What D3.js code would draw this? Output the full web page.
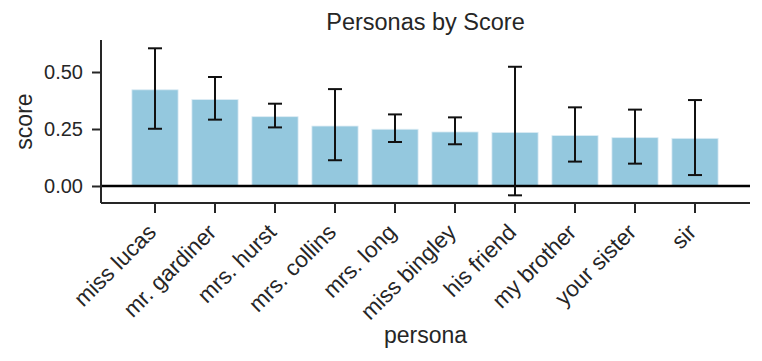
<!DOCTYPE html>
<html>
<head>
<meta charset="utf-8">
<script src="https://cdn.jsdelivr.net/npm/d3@7"></script>
<style>
  body { margin: 0; background: #fff; }
  svg text { font-family: "Liberation Sans", Arial, sans-serif; fill: #262626; }
</style>
</head>
<body>
<svg width="762" height="361"></svg>
<script>
var personas = ["miss lucas", "mr. gardiner", "mrs. hurst", "mrs. collins", "mrs. long",
                "miss bingley", "his friend", "my brother", "your sister", "sir"];
var scores = [0.422, 0.379, 0.304, 0.263, 0.249, 0.237, 0.235, 0.221, 0.212, 0.209];
var errLow = [0.251, 0.291, 0.257, 0.113, 0.193, 0.183, -0.041, 0.107, 0.098, 0.048];
var errHigh = [0.604, 0.478, 0.361, 0.425, 0.314, 0.301, 0.523, 0.345, 0.335, 0.377];
var yTicks = [0, 0.25, 0.5];

var svg = d3.select('svg');
var plotLeft = 101, plotRight = 750, plotTop = 40, plotBottom = 203;

var data = personas.map(function(p, i) {
    return { persona: p, score: scores[i], lo: errLow[i], hi: errHigh[i] };
});

var x = d3.scaleBand().domain(personas).range([125, 725]).paddingInner(0.23).paddingOuter(0.115);
var y = d3.scaleLinear().domain([-0.0746, 0.6404]).range([plotBottom, plotTop]);

// bars
svg.append('g').selectAll('rect')
    .data(data).enter().append('rect')
    .attr('x', d => x(d.persona))
    .attr('width', x.bandwidth())
    .attr('y', d => y(Math.max(0, d.score)))
    .attr('height', d => Math.abs(y(d.score) - y(0)))
    .attr('fill', '#94c8de')
    .attr('stroke', '#dcecf4').attr('stroke-width', 0.8);

// zero line
svg.append('line')
    .attr('x1', plotLeft).attr('x2', plotRight)
    .attr('y1', y(0)).attr('y2', y(0))
    .attr('stroke', '#000').attr('stroke-width', 2.5);

// error bars
var eb = svg.append('g').attr('stroke', '#111').attr('stroke-width', 2);
data.forEach(function(d) {
    var cx = x(d.persona) + x.bandwidth() / 2;
    eb.append('line').attr('x1', cx).attr('x2', cx).attr('y1', y(d.lo)).attr('y2', y(d.hi));
    eb.append('line').attr('x1', cx - 7).attr('x2', cx + 7).attr('y1', y(d.lo)).attr('y2', y(d.lo));
    eb.append('line').attr('x1', cx - 7).attr('x2', cx + 7).attr('y1', y(d.hi)).attr('y2', y(d.hi));
});

// y axis
var yAxis = svg.append('g').attr('transform', 'translate(' + plotLeft + ',0)')
    .call(d3.axisLeft(y).tickValues(yTicks).tickFormat(d3.format('.2f')).tickSize(9).tickPadding(9));
yAxis.select('.domain').attr('d', 'M0,' + plotTop + 'V' + plotBottom);

// x axis
var xAxis = svg.append('g').attr('transform', 'translate(0,' + plotBottom + ')')
    .call(d3.axisBottom(x).tickSize(10).tickPadding(6));
xAxis.select('.domain').attr('d', 'M' + plotLeft + ',0H' + plotRight);

svg.selectAll('.domain').attr('stroke', '#262626').attr('stroke-width', 2);
svg.selectAll('.tick line').attr('stroke', '#262626').attr('stroke-width', 2);
svg.selectAll('.tick text').attr('font-size', 20).attr('font-family', null).attr('fill', null);

// rotated persona labels
xAxis.selectAll('.tick text')
    .attr('font-size', 22.5)
    .attr('text-anchor', 'end')
    .attr('dy', '0.35em')
    .attr('x', 0).attr('y', 0)
    .attr('transform', 'translate(-3,25) rotate(-45)');

// labels
svg.append('text').attr('x', (plotLeft + plotRight) / 2).attr('y', 30)
    .attr('text-anchor', 'middle').attr('font-size', 23.5).text('Personas by Score');
svg.append('text').attr('x', (plotLeft + plotRight) / 2).attr('y', 343)
    .attr('text-anchor', 'middle').attr('font-size', 23).text('persona');
svg.append('text').attr('transform', 'translate(32,' + ((plotTop + plotBottom) / 2) + ') rotate(-90)')
    .attr('text-anchor', 'middle').attr('font-size', 23).text('score');
</script>
</body>
</html>
